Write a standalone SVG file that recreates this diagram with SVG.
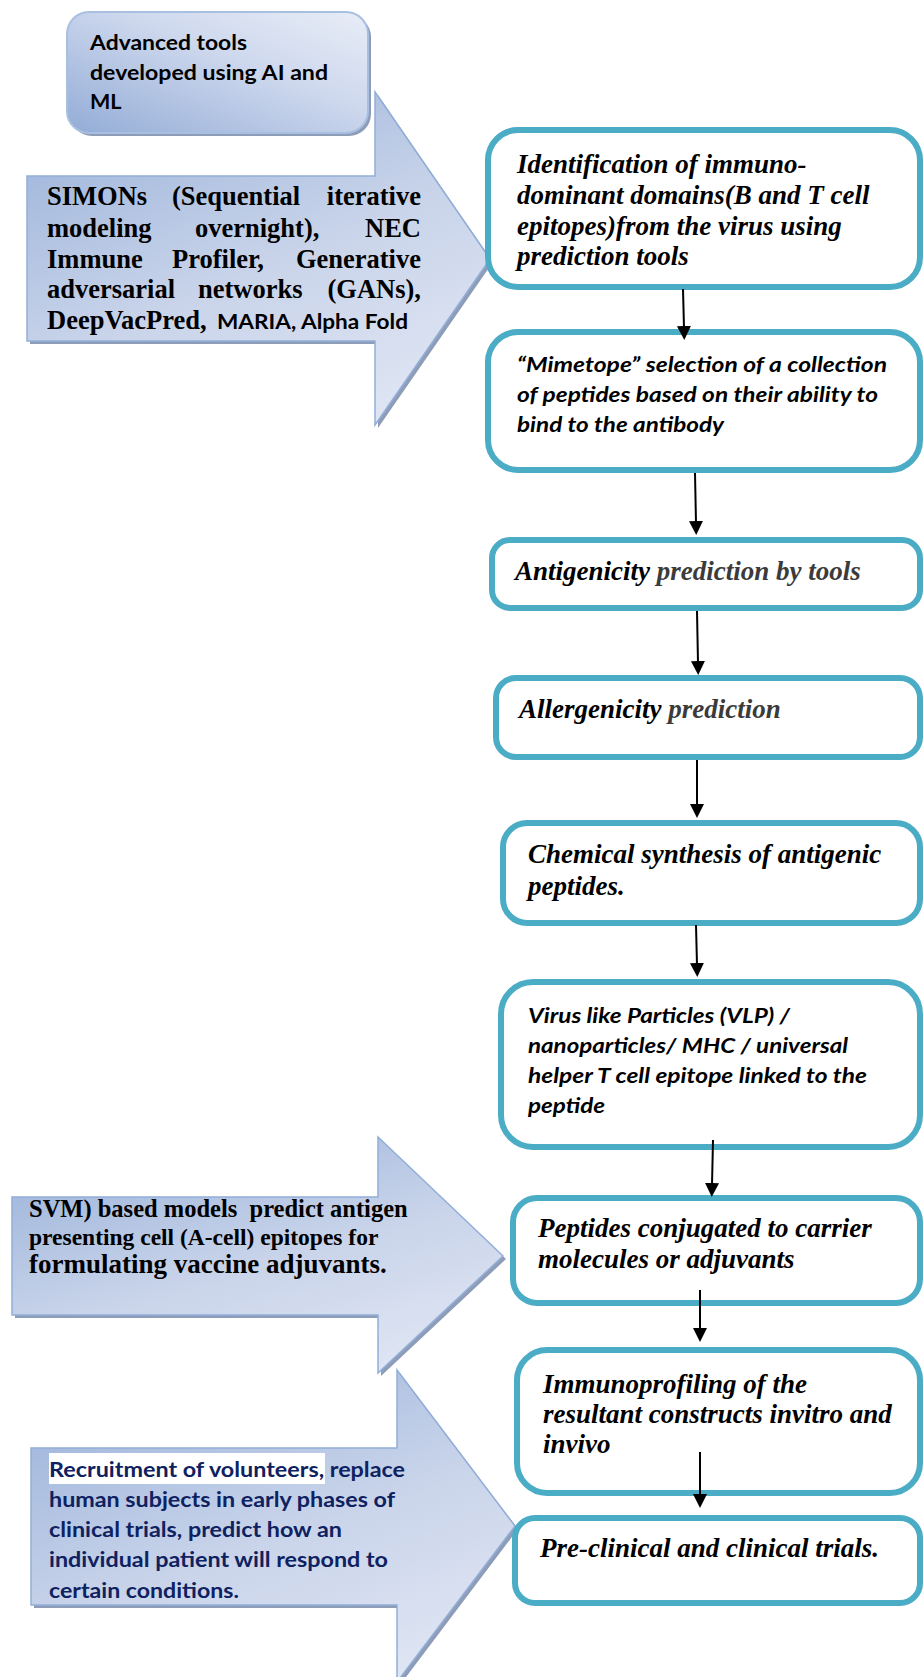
<svg xmlns="http://www.w3.org/2000/svg" width="924" height="1677" viewBox="0 0 924 1677">
<defs>
<linearGradient id="gArrow" x1="0.15" y1="0" x2="0.75" y2="1">
<stop offset="0" stop-color="#9bb3da"/>
<stop offset="0.55" stop-color="#c9d4ea"/>
<stop offset="1" stop-color="#dfe5f3"/>
</linearGradient>
<linearGradient id="gBox" x1="0" y1="1" x2="1" y2="0">
<stop offset="0" stop-color="#93acd6"/>
<stop offset="0.6" stop-color="#cfd9ee"/>
<stop offset="1" stop-color="#e8edf6"/>
</linearGradient>
<marker id="ah" markerUnits="userSpaceOnUse" markerWidth="14" markerHeight="14" viewBox="0 0 14 14" refX="2" refY="7" orient="auto">
<path d="M0,0 L14,7 L0,14 z" fill="#000"/>
</marker>
<style>
.arrow{fill:url(#gArrow);stroke:#93afd9;stroke-width:1.5}
.shadow{fill:#8e9db7}
.box{fill:#fff;stroke:#4bacc6;stroke-width:6}
.tb{font-family:"Liberation Serif","Times New Roman",serif;font-weight:bold;fill:#000}
.tbi{font-family:"Liberation Serif","Times New Roman",serif;font-weight:bold;font-style:italic;font-size:27px;fill:#000}
.cb{font-family:Lato,"Open Sans",sans-serif;font-weight:bold;font-size:21.5px;fill:#000}
.cbi{font-family:Lato,"Open Sans",sans-serif;font-weight:bold;font-style:italic;font-size:21.5px;fill:#000}
.gray{fill:#3b3b3b}
.navy{fill:#0e2160}
.conn line{stroke:#000;stroke-width:2;marker-end:url(#ah)}
</style>
</defs>
<rect width="924" height="1677" fill="#fff"/>

<!-- Left tool box -->
<g id="tools-box">
<rect x="70" y="15" width="301" height="121" rx="22" class="shadow"/>
<rect x="67" y="12" width="301" height="121" rx="22" fill="url(#gBox)" stroke="#a9bfe2" stroke-width="2"/>
<text class="cb" x="90" y="50" textLength="157" lengthAdjust="spacingAndGlyphs">Advanced tools</text>
<text class="cb" x="90" y="80" textLength="238" lengthAdjust="spacingAndGlyphs">developed using AI and</text>
<text class="cb" x="90" y="109">ML</text>
</g>

<!-- Arrow 1 -->
<g id="arrow-ai-tools">
<polygon class="shadow" points="30,179 378,179 378,95 493,262 378,428 378,344 30,344"/>
<polygon class="arrow" points="27,176 375,176 375,92 490,259 375,425 375,341 27,341"/>
<g class="tb" font-size="26.5">
<text x="47" y="205">SIMONs</text>
<text x="172" y="205">(Sequential</text>
<text x="421" y="205" text-anchor="end">iterative</text>
<text x="47" y="237">modeling</text>
<text x="195" y="237">overnight),</text>
<text x="421" y="237" text-anchor="end">NEC</text>
<text x="47" y="268">Immune</text>
<text x="172" y="268">Profiler,</text>
<text x="421" y="268" text-anchor="end">Generative</text>
<text x="47" y="298">adversarial</text>
<text x="198" y="298">networks</text>
<text x="421" y="298" text-anchor="end">(GANs),</text>
<text x="47" y="329">DeepVacPred,</text>
</g>
<text class="cb" x="217" y="329" textLength="191" lengthAdjust="spacingAndGlyphs">MARIA, Alpha Fold</text>
</g>

<!-- Arrow 2 -->
<g id="arrow-svm">
<polygon class="shadow" points="15,1200 381,1200 381,1140 506,1259 381,1376 381,1318 15,1318"/>
<polygon class="arrow" points="12,1197 378,1197 378,1137 503,1256 378,1373 378,1315 12,1315"/>
<text class="tb" font-size="24.5" x="29" y="1217" xml:space="preserve">SVM) based models  predict antigen</text>
<text class="tb" font-size="23.5" x="29" y="1245">presenting cell (A-cell) epitopes for</text>
<text class="tb" font-size="27" x="29" y="1273">formulating vaccine adjuvants.</text>
</g>

<!-- Arrow 3 -->
<g id="arrow-recruitment">
<polygon class="shadow" points="34,1451 400,1451 400,1373 518,1529 400,1685 400,1608 34,1608"/>
<polygon class="arrow" points="31,1448 397,1448 397,1370 515,1526 397,1682 397,1605 31,1605"/>
<rect x="49" y="1453" width="276" height="31" fill="#fff"/>
<text class="cb navy" x="49" y="1477" textLength="356" lengthAdjust="spacingAndGlyphs">Recruitment of volunteers, replace</text>
<text class="cb navy" x="49" y="1507" textLength="346" lengthAdjust="spacingAndGlyphs">human subjects in early phases of</text>
<text class="cb navy" x="49" y="1537" textLength="293" lengthAdjust="spacingAndGlyphs">clinical trials, predict how an</text>
<text class="cb navy" x="49" y="1567" textLength="339" lengthAdjust="spacingAndGlyphs">individual patient will respond to</text>
<text class="cb navy" x="49" y="1598" textLength="190" lengthAdjust="spacingAndGlyphs">certain conditions.</text>
</g>

<!-- Flow boxes -->
<g id="box-identification">
<rect class="box" x="488" y="130" width="432" height="157" rx="30"/>
<text class="tbi" x="517" y="173">Identification of immuno-</text>
<text class="tbi" x="517" y="204">dominant domains(B and T cell</text>
<text class="tbi" x="517" y="235">epitopes)from the virus using</text>
<text class="tbi" x="517" y="265">prediction tools</text>
</g>
<g id="box-mimetope">
<rect class="box" x="488" y="332" width="432" height="138" rx="30"/>
<text class="cbi" x="517" y="372" textLength="370" lengthAdjust="spacingAndGlyphs">“Mimetope” selection of a collection</text>
<text class="cbi" x="517" y="402" textLength="361" lengthAdjust="spacingAndGlyphs">of peptides based on their ability to</text>
<text class="cbi" x="517" y="432" textLength="207" lengthAdjust="spacingAndGlyphs">bind to the antibody</text>
</g>
<g id="box-antigenicity">
<rect class="box" x="492" y="540" width="428" height="68" rx="18"/>
<text class="tbi" x="515" y="580">Antigenicity <tspan class="gray">prediction by tools</tspan></text>
</g>
<g id="box-allergenicity">
<rect class="box" x="496" y="678" width="424" height="79" rx="20"/>
<text class="tbi" x="519" y="718">Allergenicity <tspan class="gray">prediction</tspan></text>
</g>
<g id="box-synthesis">
<rect class="box" x="503" y="823" width="417" height="100" rx="24"/>
<text class="tbi" x="528" y="863">Chemical synthesis of antigenic</text>
<text class="tbi" x="528" y="895">peptides.</text>
</g>
<g id="box-vlp">
<rect class="box" x="501" y="982" width="419" height="165" rx="32"/>
<text class="cbi" x="528" y="1023" textLength="262" lengthAdjust="spacingAndGlyphs">Virus like Particles (VLP) /</text>
<text class="cbi" x="528" y="1053" textLength="320" lengthAdjust="spacingAndGlyphs">nanoparticles/ MHC / universal</text>
<text class="cbi" x="528" y="1083" textLength="339" lengthAdjust="spacingAndGlyphs">helper T cell epitope linked to the</text>
<text class="cbi" x="528" y="1113" textLength="77" lengthAdjust="spacingAndGlyphs">peptide</text>
</g>
<g id="box-conjugated">
<rect class="box" x="513" y="1198" width="407" height="105" rx="24"/>
<text class="tbi" x="538" y="1237">Peptides conjugated to carrier</text>
<text class="tbi" x="538" y="1268">molecules or adjuvants</text>
</g>
<g id="box-immunoprofiling">
<rect class="box" x="517" y="1350" width="403" height="143" rx="30"/>
<text class="tbi" x="543" y="1393">Immunoprofiling of the</text>
<text class="tbi" x="543" y="1423">resultant constructs invitro and</text>
<text class="tbi" x="543" y="1453">invivo</text>
</g>
<g id="box-trials">
<rect class="box" x="515" y="1518" width="405" height="85" rx="20"/>
<text class="tbi" x="540" y="1557">Pre-clinical and clinical trials.</text>
</g>

<!-- Connectors -->
<g id="connectors" class="conn">
<line x1="683" y1="289" x2="684" y2="328"/>
<line x1="695" y1="473" x2="696" y2="523"/>
<line x1="697" y1="611" x2="698" y2="663"/>
<line x1="697" y1="760" x2="697" y2="806"/>
<line x1="696" y1="925" x2="697" y2="965"/>
<line x1="713" y1="1140" x2="712" y2="1185"/>
<line x1="700" y1="1290" x2="700" y2="1330"/>
<line x1="700" y1="1452" x2="700" y2="1496"/>
</g>
</svg>
